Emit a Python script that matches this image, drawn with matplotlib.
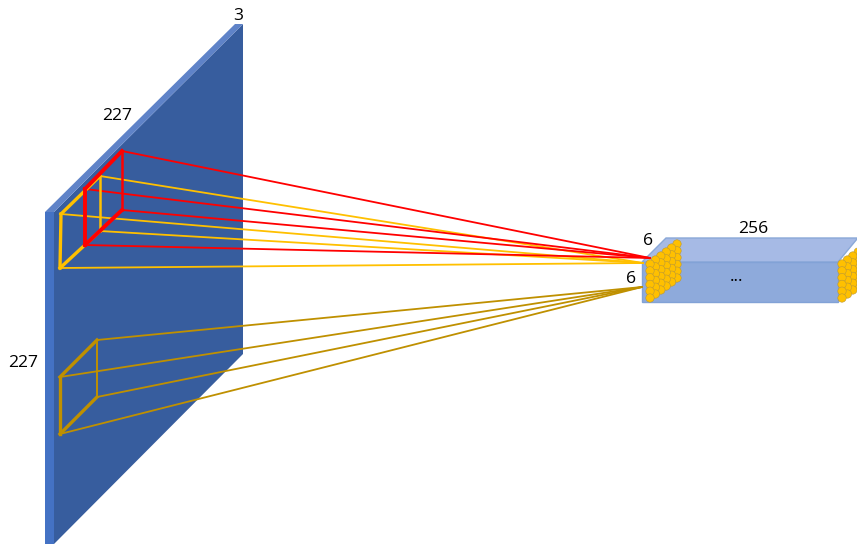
import matplotlib
matplotlib.use("Agg")
import matplotlib.pyplot as plt
from matplotlib.patches import Polygon, Circle

# everything is in image pixels
plate_front = [(45,212),(54,212),(54,544),(45,544)]
plate_face = [(54,212),(243,24),(243,354),(54,544)]
plate_top = [(45,212),(235,24),(243,24),(54,212)]

box_front = [(642,262),(838,262),(838,302),(642,302)]
box_top = [(642,262),(666,238),(857,238),(857,239),(838,262)]

# kernel wireframes: front square then back square
red_front = [(85,189),(85,245)]
red_back = [(122,151),(122,210)]
red_tip = (650,258)

yellow_front = [(61,214),(60,268)]
yellow_back = [(100,176),(100,231)]
yellow_tip = (643,263)

gold_front = [(60,377),(60,434)]
gold_back = [(97,340),(97,397)]
gold_tip = (642,287)

labels = [(238,16,"3"),(117,116,"227"),(23,363,"227"),(648,241,"6"),(631,279,"6"),(753,229,"256"),(737,277,"...")]

fig = plt.figure(figsize=(8.57,5.44), dpi=100)
ax = fig.add_axes([0,0,1,1])
ax.set_xlim(0,857)
ax.set_ylim(544,0)
ax.axis("off")

ax.add_patch(Polygon(plate_face, fc="#375d9e", ec="none"))
ax.add_patch(Polygon(plate_front, fc="#4472c4", ec="none"))
ax.add_patch(Polygon(plate_top, fc="#5f83c8", ec="none"))

ax.add_patch(Polygon(box_top, fc="#a6bae5", ec="#8aa8d8", lw=1))
ax.add_patch(Polygon(box_front, fc="#8eaadb", ec="#82a2d6", lw=1))

def balls(x0, y0):
    for d in range(5,-1,-1):
        for r in range(6):
            ax.add_patch(Circle((x0+d*5.4, y0-d*4+r*6.8), 4.2, fc="#ffc000", ec="#b8973a", lw=0.4, zorder=3, clip_on=True))

balls(650,264)
balls(842,264)

def frame(front, back, tip, color, lw_front, lw_back, lw_tip, tip_z):
    for p in front+back:
        ax.plot([p[0],tip[0]],[p[1],tip[1]], color=color, lw=lw_tip, zorder=tip_z, solid_capstyle="round")
    ax.plot([p[0] for p in front],[p[1] for p in front], color=color, lw=lw_front, zorder=5)
    ax.plot([p[0] for p in back],[p[1] for p in back], color=color, lw=lw_back, zorder=5)
    for a,b in zip(front,back):
        ax.plot([a[0],b[0]],[a[1],b[1]], color=color, lw=lw_front, zorder=5)

frame(gold_front, gold_back, gold_tip, "#bf9000", 2.4, 1.4, 1.3, 2)
frame(yellow_front, yellow_back, yellow_tip, "#ffc000", 2.4, 1.8, 1.3, 2)
frame(red_front, red_back, red_tip, "#ff0000", 2.8, 1.8, 1.3, 2.5)

for x,y,s in labels:
    ax.text(x,y,s,fontsize=12.6,family="Open Sans",ha="center",va="center",color="black",zorder=6)

fig.savefig("out.png", dpi=100)
